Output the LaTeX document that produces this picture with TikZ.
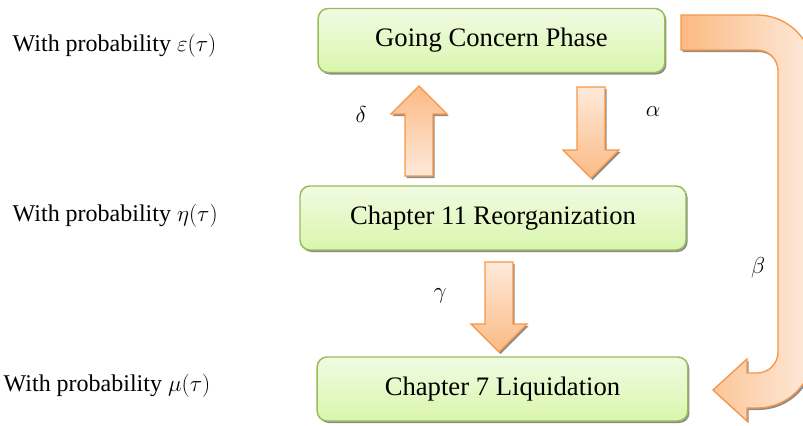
\documentclass[tikz,border=0pt]{standalone}
\usepackage{amsmath,amssymb}
\usepackage{fontspec}
\setmainfont{Liberation Serif}
\usepackage{xcolor}
\usepackage{tikz}
\usetikzlibrary{shapes.geometric, calc, shadows}
\definecolor{phaseTop}{HTML}{F1FBE3}
\definecolor{phaseBottom}{HTML}{D9F6AC}
\definecolor{phaseBorder}{HTML}{9BBB59}
\definecolor{flowDark}{HTML}{FBBA84}
\definecolor{flowLight}{HTML}{FEEADB}
\definecolor{flowBorder}{HTML}{F79646}

% block arrow: x, tail y, head base y, tip y, extra style
\newcommand{\blockarrow}[5]{%
  \path[fatarrow, #5] ({#1-14},#2) -- ({#1+14},#2) -- ({#1+14},#3) -- ({#1+28},#3)
    -- (#1,#4) -- ({#1-28},#3) -- ({#1-14},#3) -- cycle;}

\begin{document}
\begin{tikzpicture}[
  x=0.75pt, y=-0.75pt,
  box/.style={rectangle, rounded corners=7.5pt, minimum height=48pt, text centered,
    font=\fontsize{20}{24}\selectfont, draw=phaseBorder, line width=1.1pt,
    top color=phaseTop, bottom color=phaseBottom,
    drop shadow={shadow xshift=1.2pt, shadow yshift=-1.5pt, fill=black, opacity=0.45}},
  fatarrow/.style={draw=flowBorder, line width=1pt, line join=miter,
    drop shadow={shadow xshift=1.2pt, shadow yshift=-1.5pt, fill=black, opacity=0.45}},
  prob/.style={anchor=west, font=\fontsize{18}{21}\selectfont},
  greek/.style={font=\fontsize{19}{22}\selectfont}
]
  \useasboundingbox (0,0) rectangle (803,425);

  % Phases
  \node (going) [box, minimum width=260pt] at (491.5,40.5) {Going Concern Phase};
  \node (reorg) [box, minimum width=289.5pt] at (493,218) {Chapter 11 Reorganization};
  \node (liq) [box, minimum width=278pt] at (502.5,389) {Chapter 7 Liquidation};

  % Probabilities
  \node (probGoing) [prob] at (8,46) {With probability $\varepsilon(\tau)$};
  \node (probReorg) [prob] at (8,216) {With probability $\eta(\tau)$};
  \node (probLiq) [prob] at (-1,386) {With probability $\mu(\tau)$};

  % Transitions
  \blockarrow{419}{176}{114}{86}{top color=flowDark, bottom color=flowLight}
  \blockarrow{591}{87}{150}{178}{top color=flowLight, bottom color=flowDark}
  \blockarrow{499}{262}{324}{352}{top color=flowLight, bottom color=flowDark}
  \path[fatarrow, left color=flowDark, right color=flowLight]
    (681,15) -- (757,15) .. controls (788,15) and (813,40) .. (813,71)
    -- (813,352) .. controls (813,383) and (788,408) .. (757,408)
    -- (747,408) -- (747,421) -- (713,390) -- (747,359) -- (747,373) -- (757,373)
    .. controls (768.6,373) and (778,363.6) .. (778,352)
    -- (778,71) .. controls (778,59.4) and (768.6,50) .. (757,50)
    -- (681,50) -- cycle;

  % Rates
  \node (delta) [greek] at (361,114) {$\delta$};
  \node (alpha) [greek] at (653,112) {$\alpha$};
  \node (gamma) [greek] at (440,296) {$\gamma$};
  \node (beta) [greek] at (758,268) {$\beta$};
\end{tikzpicture}
\end{document}
